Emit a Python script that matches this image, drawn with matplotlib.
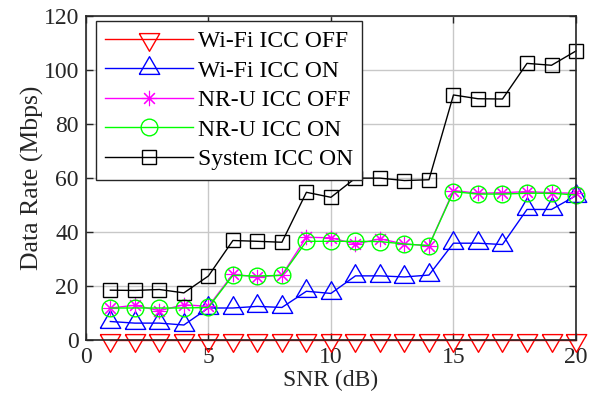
import matplotlib
matplotlib.use('Agg')
import matplotlib.pyplot as plt
import numpy as np

snr = list(range(1, 21))

wifi_off = [0] * 20
wifi_on = [6.9, 6.3, 6.3, 5.6, 11.9, 11.9, 12.5, 12.1, 18.1, 17.3,
           23.8, 23.8, 23.4, 24.1, 35.9, 35.9, 35.4, 48.4, 48.4, 53.5]
nru_off = [11.9, 12.9, 10.9, 13.1, 12.5, 24.4, 23.4, 24.1, 38.1, 37.9,
           35.6, 37.5, 35.6, 35.0, 55.4, 54.4, 54.6, 55.0, 54.6, 54.4]
nru_on = [11.9, 11.9, 11.9, 11.9, 12.1, 24.0, 23.75, 24.0, 36.6, 36.6,
          36.6, 36.5, 35.6, 35.0, 55.0, 54.1, 54.1, 54.4, 54.4, 53.75]
system_on = [18.5, 18.4, 18.75, 17.5, 23.75, 36.9, 36.6, 36.25, 54.75, 52.9,
             60.0, 60.0, 59.1, 59.4, 90.8, 89.4, 89.3, 102.5, 101.8, 107.1]

labels = ['Wi-Fi ICC OFF', 'Wi-Fi ICC ON', 'NR-U ICC OFF', 'NR-U ICC ON', 'System ICC ON']

# MATLAB-like triangles, centred on the centroid
tri_up = [(-1, -0.577), (1, -0.577), (0, 1.155), (-1, -0.577)]
tri_down = [(-1, 0.577), (1, 0.577), (0, -1.155), (-1, 0.577)]

plt.rcParams['font.family'] = ['Liberation Serif', 'DejaVu Serif']

fig = plt.figure(figsize=(5.92, 4.03), dpi=100)
ax = fig.add_axes([0.145, 0.156, 0.828, 0.804])

ax.plot(snr, wifi_off, '-', color='red', marker=tri_down, markersize=17,
        markerfacecolor='none', linewidth=1, label=labels[0], clip_on=False)
ax.plot(snr, wifi_on, '-', color='blue', marker=tri_up, markersize=17,
        markerfacecolor='none', linewidth=1, label=labels[1], clip_on=False)
ax.plot(snr, nru_off, '-', color='magenta', marker=(8, 2, 0), markersize=11,
        markerfacecolor='none', markeredgewidth=0.8, linewidth=1,
        label=labels[2], clip_on=False)
ax.plot(snr, nru_on, '-', color='lime', marker='o', markersize=12,
        markerfacecolor='none', linewidth=1, label=labels[3], clip_on=False)
ax.plot(snr, system_on, '-', color='black', marker='s', markersize=10.3,
        markerfacecolor='none', linewidth=1, label=labels[4], clip_on=False)

ax.set_xlim(0, 20)
ax.set_ylim(0, 120)
ax.set_xticks([0, 5, 10, 15, 20])
ax.set_yticks([0, 20, 40, 60, 80, 100, 120])
ax.tick_params(direction='in', top=True, right=True, labelsize=17,
               color='#262626', labelcolor='#262626', width=1, length=5, pad=5)
for s in ax.spines.values():
    s.set_color('#262626')
    s.set_linewidth(1.2)
ax.grid(True, color='#c8c8c8', linewidth=1)
ax.set_axisbelow(True)

ax.set_xlabel('SNR (dB)', fontsize=17, color='#262626', labelpad=1)
ax.set_ylabel('Data Rate (Mbps)', fontsize=18.5, color='#262626', labelpad=0)

leg = ax.legend(loc='upper left', bbox_to_anchor=(96 / 592, 1 - 21 / 403),
                bbox_transform=fig.transFigure, borderaxespad=0,
                fontsize=17, fancybox=False, framealpha=1, edgecolor='#262626',
                handlelength=3.7, handletextpad=0.2, labelspacing=0.34,
                borderpad=0.4)
leg.set_zorder(10)
leg.get_frame().set_linewidth(1)
for t in leg.get_texts():
    t.set_color('black')

fig.savefig('out.png', dpi=100)
plt.close()
